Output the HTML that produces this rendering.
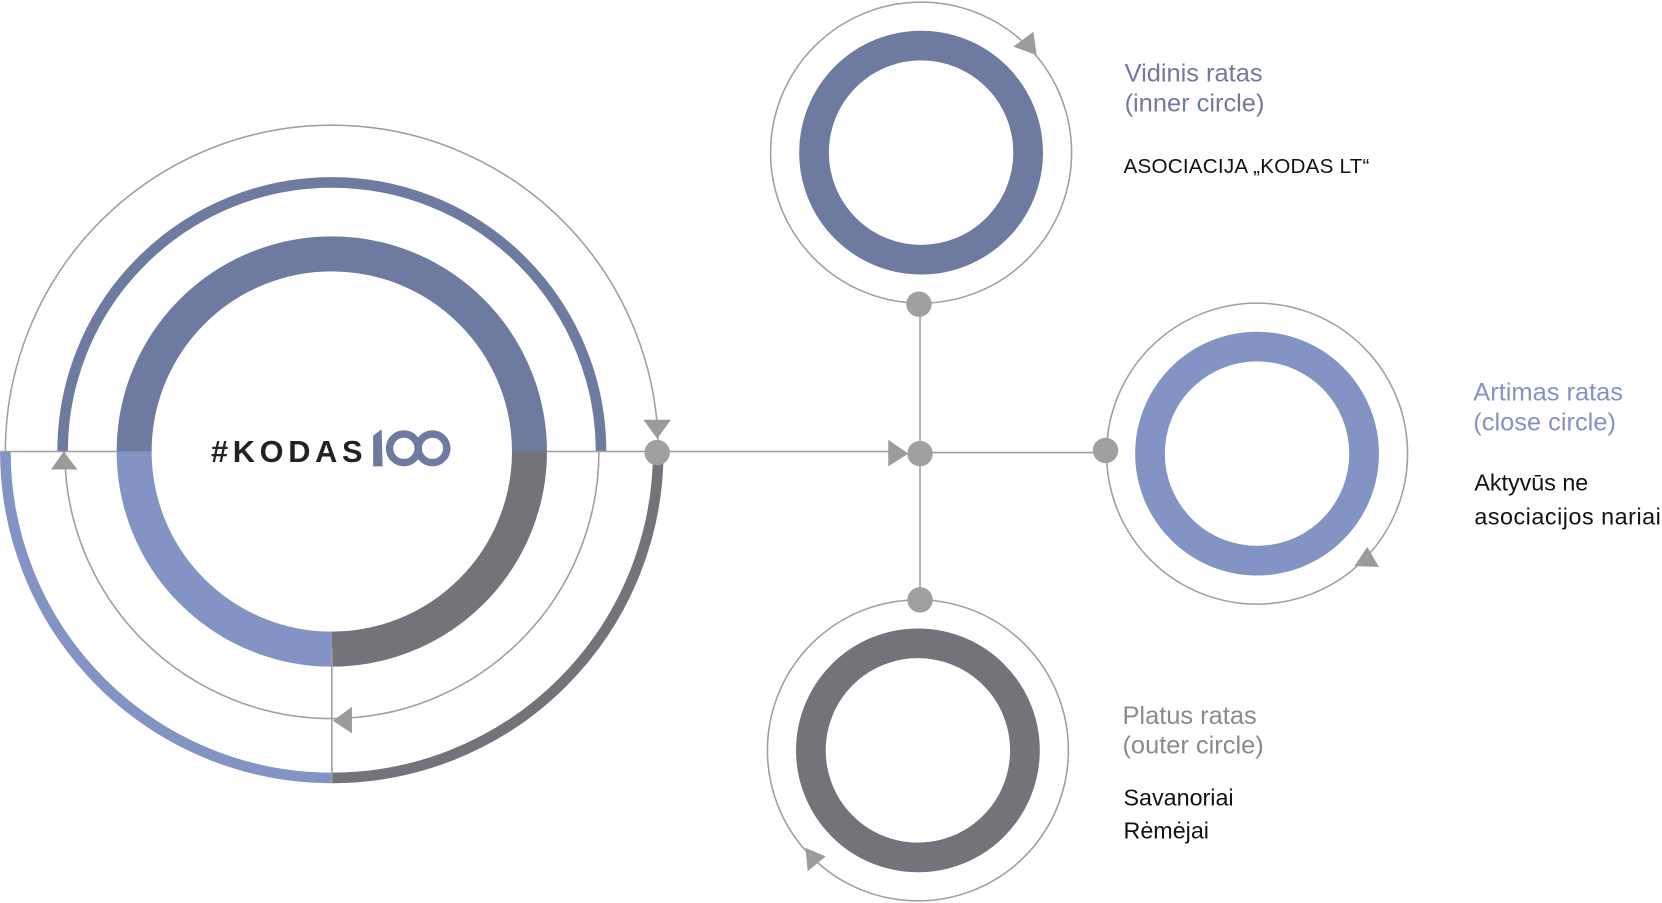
<!DOCTYPE html>
<html><head><meta charset="utf-8"><style>
html,body{margin:0;padding:0;background:#fff;}
svg{display:block;}
text{font-family:"Liberation Sans",sans-serif;}
</style></head><body>
<svg width="1662" height="903" viewBox="0 0 1568 852" xmlns="http://www.w3.org/2000/svg">
<g fill="none">
  <path d="M126.5 426 A186.5 186.5 0 0 1 499.5 426" stroke="#6e7aa0" stroke-width="33"/>
  <path d="M126.5 426 A186.5 186.5 0 0 0 313 612.5" stroke="#8293c4" stroke-width="33"/>
  <path d="M313 612.5 A186.5 186.5 0 0 0 499.5 426" stroke="#737479" stroke-width="33"/>
  <path d="M59 426 A254 254 0 0 1 567 426" stroke="#6e7aa0" stroke-width="10"/>
  <path d="M61 426 A252 252 0 0 0 565 426" stroke="#a0a0a0" stroke-width="1.5"/>
  <path d="M5 426 A308 308 0 0 1 621 426" stroke="#a0a0a0" stroke-width="1.5"/>
  <path d="M5 426 A308 308 0 0 0 313 734" stroke="#8293c4" stroke-width="10"/>
  <path d="M313 734 A308 308 0 0 0 621 426" stroke="#737479" stroke-width="10"/>
  <line x1="0" y1="426" x2="110" y2="426" stroke="#a0a0a0" stroke-width="1.5"/>
  <line x1="516" y1="426" x2="850" y2="426" stroke="#a0a0a0" stroke-width="1.5"/>
  <line x1="313" y1="612" x2="313" y2="739" stroke="#a0a0a0" stroke-width="1.5"/>
</g>
<g fill="#9b9b9b">
  <polygon points="607,396 633,396 620,414"/>
  <polygon points="48,443 73,443 60,426"/>
  <polygon points="332,667 332,692 314,680"/>
  <polygon points="838,415 838,440 857,428"/>
  <polygon points="956,44 975,30 978,52"/>
  <polygon points="1290,516 1301,535 1278,534"/>
  <polygon points="760,800 779,808 762,822"/>
</g>
<circle cx="620" cy="427" r="12" fill="#a0a0a0"/>
<line x1="868" y1="287" x2="868" y2="566" stroke="#a0a0a0" stroke-width="1.5"/>
<line x1="868" y1="427" x2="1043" y2="427" stroke="#a0a0a0" stroke-width="1.5"/>
<circle cx="868" cy="428" r="12" fill="#a0a0a0"/>
<g fill="none">
  <circle cx="869" cy="144" r="142" stroke="#a0a0a0" stroke-width="1.5"/>
  <circle cx="869" cy="144" r="101" stroke="#6e7aa0" stroke-width="28"/>
</g>
<g fill="none">
  <circle cx="1186" cy="428" r="142" stroke="#a0a0a0" stroke-width="1.5"/>
  <circle cx="1186" cy="428" r="101" stroke="#8293c4" stroke-width="28"/>
</g>
<g fill="none">
  <circle cx="866" cy="708" r="142" stroke="#a0a0a0" stroke-width="1.5"/>
  <circle cx="866" cy="708" r="101" stroke="#737479" stroke-width="28"/>
</g>
<circle cx="867" cy="287" r="12" fill="#a0a0a0"/>
<circle cx="868" cy="566" r="12" fill="#a0a0a0"/>
<circle cx="1043" cy="425" r="12" fill="#a0a0a0"/>
<text x="199" y="436" font-size="29" font-weight="bold" fill="#222" textLength="143" lengthAdjust="spacing">#KODAS</text>
<g>
  <polygon points="352,411 360,405 361,440 352,440" fill="#6e7aa0"/>
  <circle cx="381" cy="423" r="13.5" fill="none" stroke="#6e7aa0" stroke-width="7"/>
  <circle cx="408" cy="423" r="13.5" fill="none" stroke="#6e7aa0" stroke-width="7"/>
</g>
<text x="1061" y="77" font-size="24" fill="#6e7aa0">Vidinis ratas</text>
<text x="1061" y="105" font-size="24" fill="#6e7aa0">(inner circle)</text>
<text x="1060" y="163" font-size="19.5" fill="#111" textLength="232" lengthAdjust="spacing">ASOCIACIJA „KODAS LT“</text>
<text x="1390" y="378" font-size="24" fill="#8293c4">Artimas ratas</text>
<text x="1390" y="406" font-size="24" fill="#8293c4">(close circle)</text>
<text x="1391" y="463" font-size="22" fill="#111">Aktyvūs ne</text>
<text x="1391" y="495" font-size="22" fill="#111" textLength="176" lengthAdjust="spacing">asociacijos nariai</text>
<text x="1059" y="683" font-size="24" fill="#8a8a8e">Platus ratas</text>
<text x="1059" y="711" font-size="24" fill="#8a8a8e">(outer circle)</text>
<text x="1060" y="760" font-size="22" fill="#111">Savanoriai</text>
<text x="1060" y="791" font-size="22" fill="#111">Rėmėjai</text>
</svg>
</body></html>
